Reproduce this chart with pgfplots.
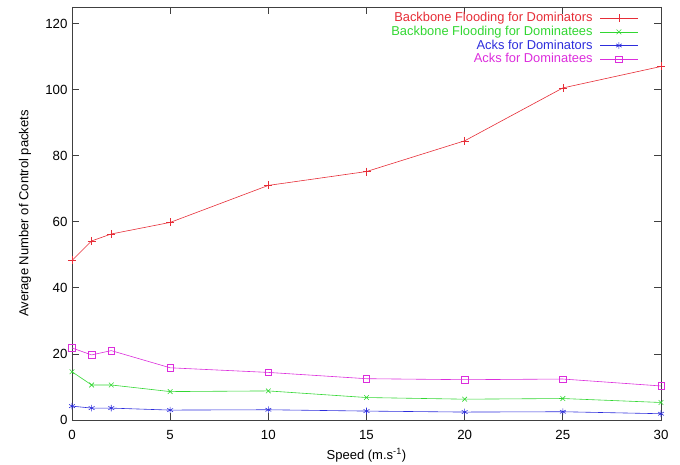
\documentclass[border=0pt]{standalone}
\usepackage{pgfplots}
\pgfplotsset{compat=1.18}
\usepackage{fontspec}
\setmainfont{Liberation Sans}
\definecolor{gred}{RGB}{230,45,55}
\definecolor{ggreen}{RGB}{50,215,50}
\definecolor{gblue}{RGB}{45,45,220}
\definecolor{gmag}{RGB}{220,45,220}
\newcommand{\lgd}[2]{\textcolor{#1}{#2}\rule{3.5bp}{0pt}}
\begin{document}
\fontsize{9.7}{11}\selectfont
\begin{tikzpicture}[x=1pt,y=1pt]
  \begin{axis}[
      name=ax,
      scale only axis,
      width=441.75bp, height=309.75bp,
      xmin=0, xmax=30,
      ymin=0, ymax=125,
      xtick={0,5,...,30},
      ytick={0,20,...,120},
      tick align=inside,
      major tick length=5bp,
      axis line style={black!75, line width=0.6pt},
      tick style={black!75, line width=0.6pt},
      /pgf/number format/assume math mode=true,
      ticklabel style={font=\fontsize{10}{11}\selectfont},
      xticklabel style={yshift=-4bp},
      xlabel={Speed (m.s\textsuperscript{-1})},
      ylabel={Average Number of Control packets},
      xlabel style={font=\fontsize{9.8}{11}\selectfont, yshift=0bp},
      ylabel style={font=\fontsize{9.8}{11}\selectfont, yshift=4bp},
      legend style={draw=none, fill=none, at={(rel axis cs:0.968,1.0)}, anchor=north east,
        font=\fontsize{9.7}{11}\selectfont, row sep=-2.2bp},
      legend cell align=right,
      legend plot pos=right,
      legend image code/.code={
        \draw[mark repeat=2, mark phase=2, #1]
          plot coordinates {(0bp,0bp) (14bp,0bp) (28bp,0bp)};
      },
      every axis plot/.append style={line width=0.45pt},
    ]
    \addplot[gred, mark=+, mark size=3bp] coordinates {
      (0,48.3) (1,54.2) (2,56.3) (5,59.8) (10,71.0) (15,75.2) (20,84.5) (25,100.5) (30,107.0)
    };
    \addlegendentry{\lgd{gred}{Backbone Flooding for Dominators}}
    \addplot[ggreen, mark=x, mark size=2.5bp] coordinates {
      (0,14.6) (1,10.6) (2,10.6) (5,8.6) (10,8.8) (15,6.8) (20,6.3) (25,6.5) (30,5.3)
    };
    \addlegendentry{\lgd{ggreen}{Backbone Flooding for Dominatees}}
    \addplot[gblue, mark=asterisk, mark size=2.5bp] coordinates {
      (0,4.2) (1,3.6) (2,3.6) (5,3.0) (10,3.1) (15,2.7) (20,2.4) (25,2.5) (30,1.9)
    };
    \addlegendentry{\lgd{gblue}{Acks for Dominators}}
    \addplot[gmag, mark=square, mark size=2.4bp] coordinates {
      (0,21.8) (1,19.7) (2,21.0) (5,15.8) (10,14.4) (15,12.5) (20,12.2) (25,12.4) (30,10.3)
    };
    \addlegendentry{\lgd{gmag}{Acks for Dominatees}}
  \end{axis}
  \pgfresetboundingbox
  \path ([shift={(-54bp,-33.75bp)}]ax.south west) rectangle ([shift={(14.25bp,5.25bp)}]ax.north east);
\end{tikzpicture}
\end{document}
